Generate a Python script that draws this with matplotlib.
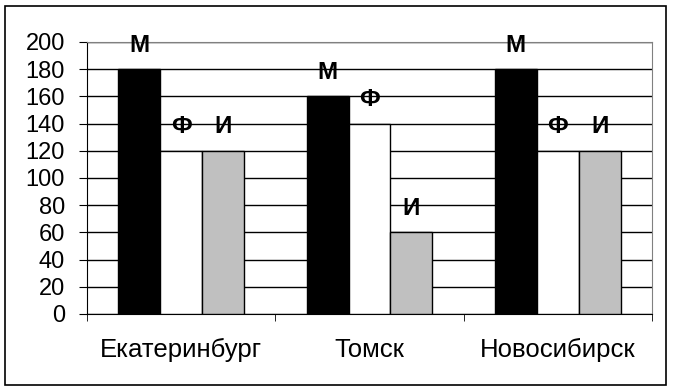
import numpy as np
import matplotlib.pyplot as plt
from matplotlib.patches import Rectangle

plt.rcParams['font.family'] = ['Liberation Sans', 'DejaVu Sans']

cities = ['Екатеринбург', 'Томск', 'Новосибирск']
series_names = ['М', 'Ф', 'И']
m_vals = [180, 160, 180]
f_vals = [120, 140, 120]
i_vals = [120, 60, 120]
colors = ['black', 'white', '#C0C0C0']

fig = plt.figure(figsize=(6.75, 3.91), dpi=100)
ax = fig.add_axes([87/675, 1-314/391, (652-87)/675, (314-42)/391])

x = np.arange(len(cities))
w = 0.223
for k, (vals, name, col) in enumerate(zip([m_vals, f_vals, i_vals], series_names, colors)):
    xs = x + (k-1)*w
    ax.bar(xs, vals, width=w, color=col, edgecolor='black', linewidth=1, zorder=3)
    for xx, v in zip(xs, vals):
        ax.annotate(name, (xx, v), xytext=(0, 9), textcoords='offset points',
                    ha='center', va='bottom', fontsize=17.5, fontweight='bold',
                    clip_on=False, zorder=4)

ax.set_xlim(-0.5, 2.5)
ax.set_ylim(0, 200)
ax.set_yticks(range(0, 201, 20))
ax.yaxis.grid(True, color='black', linewidth=1, zorder=0)
ax.set_xticks(x)
ax.set_xticklabels(cities, fontsize=18.5)
ax.set_xticks([-0.5, 0.5, 1.5, 2.5], minor=True)
ax.tick_params(axis='x', which='major', length=0, pad=17)
ax.tick_params(axis='x', which='minor', length=5, direction='out', color='black')
ax.tick_params(axis='y', length=6, direction='out', labelsize=17, pad=10)

for s in ['top', 'right']:
    ax.spines[s].set_color('#808080')
for s in ['left', 'bottom']:
    ax.spines[s].set_color('black')

fig.patches.append(Rectangle((5/675, 1-385/391), 661/675, 379/391,
                             transform=fig.transFigure, fill=False,
                             edgecolor='black', linewidth=1.2))

fig.savefig('out.png', dpi=100)
